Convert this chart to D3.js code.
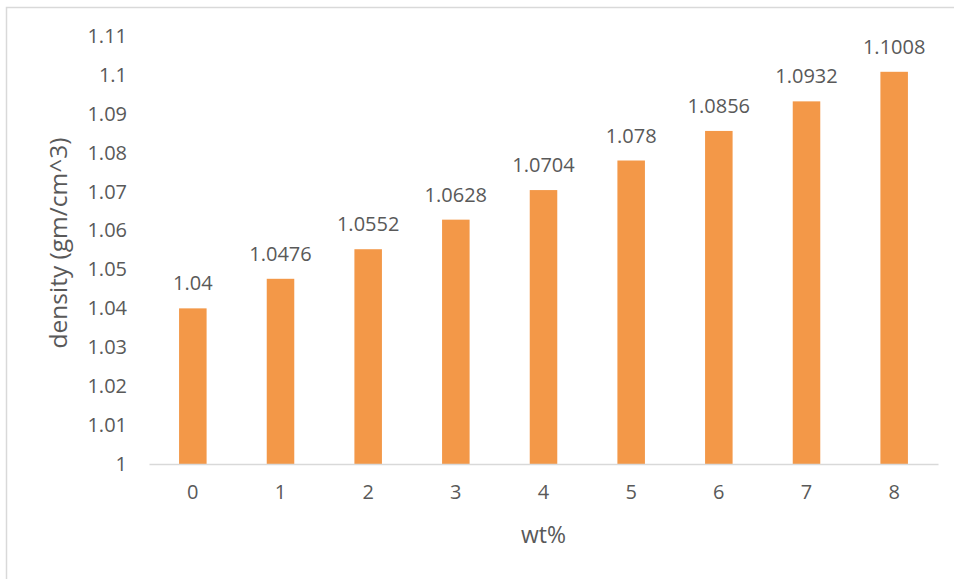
<!DOCTYPE html>
<html><head><meta charset="utf-8">
<script src="https://cdn.jsdelivr.net/npm/d3@7"></script>
<style>body{margin:0;background:#fff;} svg{display:block;font-family:"Open Sans",sans-serif;}</style>
</head><body>
<svg id="c" width="954" height="579"></svg>
<script>
const categories = ["0","1","2","3","4","5","6","7","8"];
const densities = [1.04, 1.0476, 1.0552, 1.0628, 1.0704, 1.078, 1.0856, 1.0932, 1.1008];
const dataLabels = ["1.04","1.0476","1.0552","1.0628","1.0704","1.078","1.0856","1.0932","1.1008"];
const yTicks = [1,1.01,1.02,1.03,1.04,1.05,1.06,1.07,1.08,1.09,1.1,1.11];
const yTickLabels = ["1","1.01","1.02","1.03","1.04","1.05","1.06","1.07","1.08","1.09","1.1","1.11"];

const svg = d3.select("#c");
const textColor = "#595959";
// chart border (partially cropped)
svg.append("rect").attr("x",6.5).attr("y",7.5).attr("width",1000).attr("height",1000)
  .attr("fill","none").attr("stroke","#d9d9d9").attr("stroke-width",1.5);

const x = d3.scaleBand().domain(categories).range([149,938]).paddingInner(0.686).paddingOuter(0.343);
const y = d3.scaleLinear().domain([1,1.11]).range([464,36]);

const bars = categories.map((c,i)=>({c, v:densities[i], l:dataLabels[i]}));
svg.append("g").selectAll("rect").data(bars).join("rect")
  .attr("x",d=>x(d.c)).attr("width",x.bandwidth())
  .attr("y",d=>y(d.v)).attr("height",d=>y(1)-y(d.v))
  .attr("fill","#F39848");

// x axis
const xAxis = svg.append("g").attr("transform","translate(0,464)")
  .call(d3.axisBottom(x).tickSize(0).tickPadding(21));
xAxis.select(".domain").attr("stroke","#d9d9d9").attr("stroke-width",1.5);
xAxis.selectAll("text").attr("fill",textColor).attr("font-size",20).attr("font-family","Open Sans");

// y axis labels
const yAxis = svg.append("g").attr("transform","translate(127,0)")
  .call(d3.axisLeft(y).tickValues(yTicks).tickFormat((d,i)=>yTickLabels[i]).tickSize(0).tickPadding(0));
yAxis.select(".domain").remove();
yAxis.selectAll("text").attr("fill",textColor).attr("font-size",20).attr("font-family","Open Sans");

// data labels
svg.append("g").selectAll("text").data(bars).join("text")
  .attr("x",d=>x(d.c)+x.bandwidth()/2).attr("y",d=>y(d.v)-18)
  .attr("text-anchor","middle").attr("fill",textColor).attr("font-size",20)
  .text(d=>d.l);

// axis titles
svg.append("text").attr("x",543.5).attr("y",543).attr("text-anchor","middle")
  .attr("fill",textColor).attr("font-size",23).text("wt%");
svg.append("text").attr("transform","translate(67,243) rotate(-90)").attr("text-anchor","middle")
  .attr("fill",textColor).attr("font-size",24.5).text("density (gm/cm^3)");
</script>
</body></html>
